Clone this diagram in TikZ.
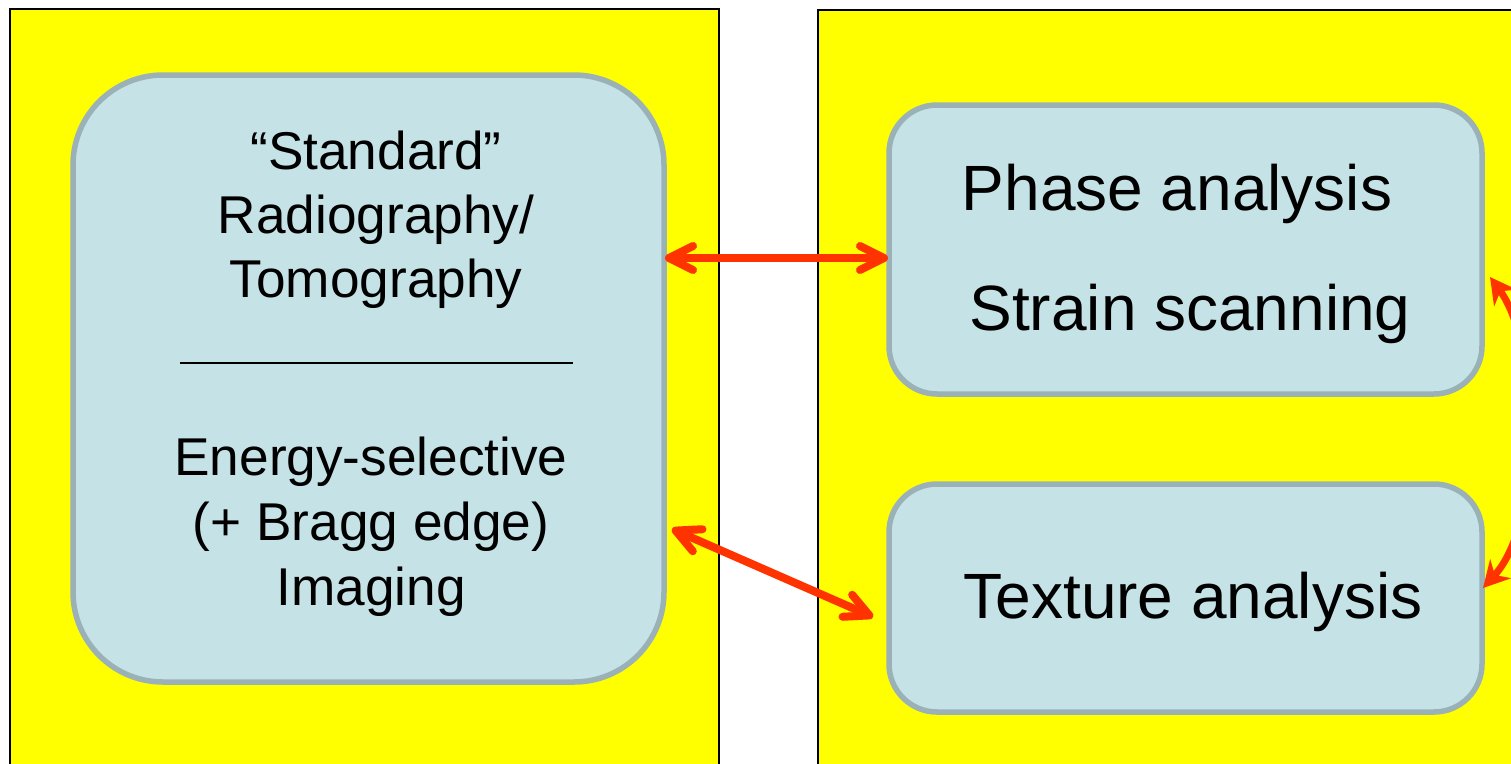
\documentclass[tikz,border=0pt]{standalone}
\usepackage{fontspec}
\setmainfont{Liberation Sans}
\usetikzlibrary{arrows.meta}
\definecolor{panel}{HTML}{FFFF00}
\definecolor{boxfill}{HTML}{C5E2E6}
\definecolor{boxline}{HTML}{9AB1B7}
\definecolor{link}{HTML}{FF3300}
\tikzset{
  panelbox/.style={draw=black, line width=2pt, fill=panel},
  topicbox/.style={draw=boxline, line width=5.5pt, fill=boxfill, inner sep=0pt},
  leftline/.style={font=\fontsize{53.2}{64}\selectfont, anchor=base, inner sep=0pt},
  rightline/.style={font=\fontsize{64}{76}\selectfont, anchor=base, inner sep=0pt},
  link/.style={draw=link, line width=8pt, line cap=round,
    {Straight Barb[length=24pt,width=24pt,round]}-{Straight Barb[length=24pt,width=24pt,round]}},
  curvelink/.style={draw=link, line width=7pt,
    {Stealth[length=26pt,width=28pt]}-{Stealth[length=26pt,width=28pt]}}
}
\begin{document}
\begin{tikzpicture}[x=1pt,y=-1pt]
\useasboundingbox (0,0) rectangle (1511,763);
\clip (0,0) rectangle (1511,763);

% two background panels
\path[panelbox] (10,9) rectangle (719,790);
\path[panelbox] (818,10) rectangle (1540,790);

% imaging methods box
\node[topicbox, rounded corners=90pt, minimum width=591pt, minimum height=607pt]
  (L) at (368.5,378.5) {};
\node[leftline] (l1) at (376,169) {“Standard”};
\node[leftline] (l2) at (376,233) {Radiography/};
\node[leftline] (l3) at (376,297) {Tomography};
\draw[line width=2.5pt] (180,363) -- (573,363);
\node[leftline] (l4) at (371,475) {Energy-selective};
\node[leftline] (l5) at (371,540) {(+ Bragg edge)};
\node[leftline] (l6) at (371,605) {Imaging};

% diffraction methods boxes
\node[topicbox, rounded corners=48pt, minimum width=593pt, minimum height=289pt]
  (P) at (1185.5,249.5) {};
\node[rightline] (p1) at (1177,210) {Phase analysis};
\node[rightline] (p2) at (1190,330) {Strain scanning};
\node[topicbox, rounded corners=48pt, minimum width=593pt, minimum height=228pt]
  (T) at (1185.5,598) {};
\node[rightline] (t1) at (1193,618) {Texture analysis};

% connectors
\coordinate (a1) at (665,258);
\coordinate (b1) at (888,258);
\coordinate (a2) at (672,529);
\coordinate (b2) at (873,617);
\coordinate (c1) at (1490,277);
\coordinate (c2) at (1483,588);
\path[link] (a1) -- (b1);
\path[link] (a2) -- (b2);
\path[curvelink] (c1) .. controls (1540,345) and (1545,520) .. (c2);
\end{tikzpicture}
\end{document}
